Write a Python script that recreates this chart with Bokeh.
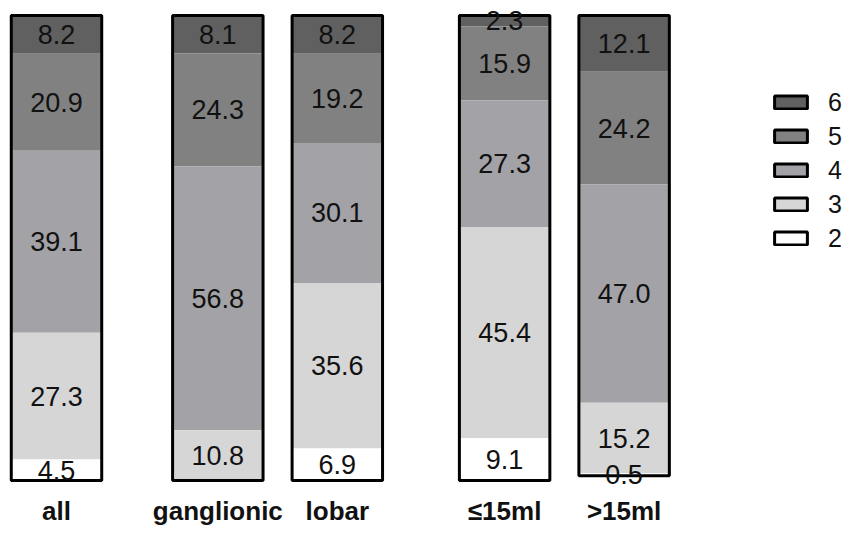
from bokeh.plotting import figure
from bokeh.models import ColumnDataSource, FixedTicker, Legend, LegendItem, Range1d
from bokeh.core.properties import value
from bokeh.embed import file_html
from bokeh.resources import INLINE

# ---- data ----
categories = ["all", "ganglionic", "lobar", "≤15ml", ">15ml"]
levels = ["6", "5", "4", "3", "2"]          # stacked from top to bottom
score6 = [8.2, 8.1, 8.2, 2.3, 12.1]
score5 = [20.9, 24.3, 19.2, 15.9, 24.2]
score4 = [39.1, 56.8, 30.1, 27.3, 47.0]
score3 = [27.3, 10.8, 35.6, 45.4, 15.2]
score2 = [4.5, 0.0, 6.9, 9.1, 0.5]
series = [score6, score5, score4, score3, score2]

# ---- layout / style ----
x_pos = [0, 1.35, 2.35, 3.75, 4.75]
bar_w = 0.757
colors = ["#606060", "#818181", "#a3a2a7", "#d6d6d6", "#ffffff"]
FONT = "Liberation Sans"

p = figure(frame_width=850, frame_height=487,
           x_range=Range1d(-0.4686, 6.6444), y_range=Range1d(-1.505, 103.226),
           output_backend="svg", toolbar_location=None, y_axis_location=None,
           min_border=0)
p.grid.visible = False
p.outline_line_color = None
p.background_fill_color = "white"

# stacked segments, from the top (100) downwards
tops = [100.0] * len(categories)
tx, ty, tt = [], [], []
for vals, col in zip(series, colors):
    bottoms = [t - v for t, v in zip(tops, vals)]
    src = ColumnDataSource(dict(x=x_pos, top=tops, bottom=bottoms))
    p.vbar(x="x", top="top", bottom="bottom", width=bar_w, source=src,
           fill_color=col, line_color=None)
    for xi, t, b, v in zip(x_pos, tops, bottoms, vals):
        if v > 0:
            tx.append(xi)
            ty.append((t + b) / 2)
            tt.append(f"{v:.1f}")
    tops = bottoms

# outline around each bar
out_src = ColumnDataSource(dict(x=x_pos, top=[100.0] * len(categories), bottom=tops))
p.vbar(x="x", top="top", bottom="bottom", width=bar_w, source=out_src,
       fill_color=None, line_color="black", line_width=3)

# value labels
lab_src = ColumnDataSource(dict(x=tx, y=ty, t=tt))
p.text(x="x", y="y", text="t", source=lab_src, text_align="center",
       text_baseline="middle", text_font=value(FONT), text_font_size="27px",
       text_color="#111111")

# legend (proxy renderers with black outlines, no visible data)
nan = float("nan")
items = []
for lev, col in zip(levels, colors):
    r = p.vbar(x=[nan], top=[nan], bottom=[nan], width=bar_w, fill_color=col,
               line_color="black", line_width=3)
    items.append(LegendItem(label=lev, renderers=[r]))
legend = Legend(items=items, location=(770, 234), orientation="vertical",
                glyph_width=41, glyph_height=16, label_height=30, spacing=4,
                label_standoff=17, padding=0, margin=0,
                border_line_color=None, background_fill_alpha=0,
                label_text_font=FONT, label_text_font_size="25px",
                label_text_color="#111111")
p.add_layout(legend, "center")

# x axis
p.xaxis.ticker = FixedTicker(ticks=x_pos)
p.xaxis.major_label_overrides = {x: c for x, c in zip(x_pos, categories)}
p.xaxis.axis_line_color = None
p.xaxis.major_tick_line_color = None
p.xaxis.minor_tick_line_color = None
p.xaxis.major_label_standoff = 2
p.xaxis.major_label_text_font = FONT
p.xaxis.major_label_text_font_size = "26px"
p.xaxis.major_label_text_font_style = "bold"
p.xaxis.major_label_text_color = "#111111"

open("out.html", "w").write(file_html(p, INLINE))
